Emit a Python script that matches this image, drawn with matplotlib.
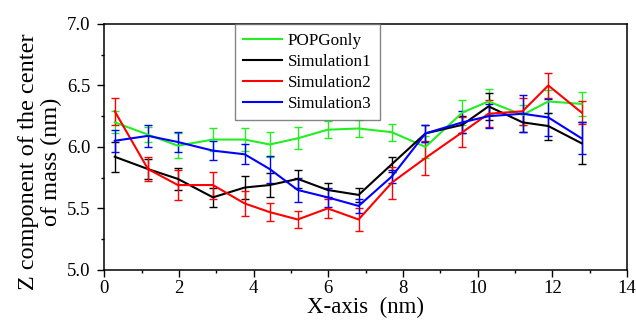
import numpy as np
import matplotlib
matplotlib.use("Agg")
import matplotlib.pyplot as plt
from matplotlib.ticker import MultipleLocator, FormatStrFormatter
from matplotlib.lines import Line2D

# -----------------------------
# Data
# -----------------------------

x = [0.28, 1.17, 1.97, 2.91, 3.76, 4.43, 5.18, 5.98, 6.81, 7.70,
     8.60, 9.59, 10.29, 11.20, 11.89, 12.78]

popg = [6.20, 6.10, 6.01, 6.06, 6.06, 6.02, 6.07, 6.14, 6.15, 6.12,
        6.00, 6.28, 6.37, 6.26, 6.37, 6.35]
popg_err = [0.09, 0.06, 0.10, 0.09, 0.09, 0.10, 0.09, 0.07, 0.07, 0.07,
            0.09, 0.10, 0.10, 0.08, 0.09, 0.10]

sim1 = [5.92, 5.82, 5.74, 5.59, 5.67, 5.69, 5.74, 5.65, 5.61, 5.86,
        6.11, 6.18, 6.33, 6.20, 6.17, 6.03]
sim1_err = [0.12, 0.08, 0.09, 0.08, 0.09, 0.10, 0.07, 0.06, 0.06, 0.06,
            0.07, 0.07, 0.11, 0.08, 0.11, 0.17]

sim2 = [6.29, 5.82, 5.69, 5.69, 5.54, 5.47, 5.41, 5.50, 5.41, 5.71,
        5.91, 6.12, 6.27, 6.29, 6.50, 6.28]
sim2_err = [0.11, 0.10, 0.12, 0.11, 0.10, 0.07, 0.07, 0.08, 0.09, 0.13,
            0.14, 0.12, 0.11, 0.11, 0.10, 0.09]

sim3 = [6.05, 6.09, 6.04, 5.97, 5.94, 5.82, 5.65, 5.59, 5.52, 5.76,
        6.11, 6.20, 6.25, 6.27, 6.24, 6.07]
sim3_err = [0.09, 0.09, 0.08, 0.08, 0.08, 0.11, 0.10, 0.08, 0.06, 0.05,
            0.07, 0.09, 0.10, 0.15, 0.15, 0.13]

series = [
    ("POPGonly", popg, popg_err, "#22ee22"),
    ("Simulation1", sim1, sim1_err, "black"),
    ("Simulation2", sim2, sim2_err, "red"),
    ("Simulation3", sim3, sim3_err, "blue"),
]

# -----------------------------
# Plot
# -----------------------------

plt.rcParams['font.family'] = ['Liberation Serif', 'DejaVu Serif']

fig = plt.figure(figsize=(6.36, 3.24), dpi=100)
ax = fig.add_axes([0.164, 0.167, 0.822, 0.759])

handles = []
for label, y, err, col in series:
    ax.errorbar(x, y, yerr=err, color=col, lw=1.5, elinewidth=1.0,
                capsize=2.8, capthick=1.0)
    handles.append(Line2D([], [], color=col, lw=1.5, label=label))

ax.set_xlim(0, 14)
ax.set_ylim(5.0, 7.0)
ax.xaxis.set_major_locator(MultipleLocator(2))
ax.xaxis.set_minor_locator(MultipleLocator(1))
ax.yaxis.set_major_locator(MultipleLocator(0.5))
ax.yaxis.set_minor_locator(MultipleLocator(0.25))
ax.yaxis.set_major_formatter(FormatStrFormatter('%.1f'))
ax.tick_params(which='major', direction='out', length=5, width=1.0,
               labelsize=13.5)
ax.tick_params(axis='x', which='major', pad=2.5)
ax.tick_params(axis='y', which='major', pad=5)
ax.tick_params(which='minor', direction='out', length=2.2, width=1.0)
for s in ax.spines.values():
    s.set_linewidth(1.1)

ax.set_xlabel("X-axis  (nm)", fontsize=16.5, labelpad=0)
ax.set_ylabel("Z component of the center\nof mass (nm)", fontsize=17.5,
              linespacing=1.15)
ax.yaxis.set_label_coords(-0.080, 0.441)

leg = ax.legend(handles=handles, loc='upper center',
                bbox_to_anchor=(0.388, 1.0), borderaxespad=0,
                fontsize=12.3, frameon=True, fancybox=False,
                edgecolor='#666666', handlelength=2.3, labelspacing=0.3,
                borderpad=0.5, handletextpad=0.3)
leg.get_frame().set_linewidth(1.0)

fig.savefig("out.png", dpi=100)
